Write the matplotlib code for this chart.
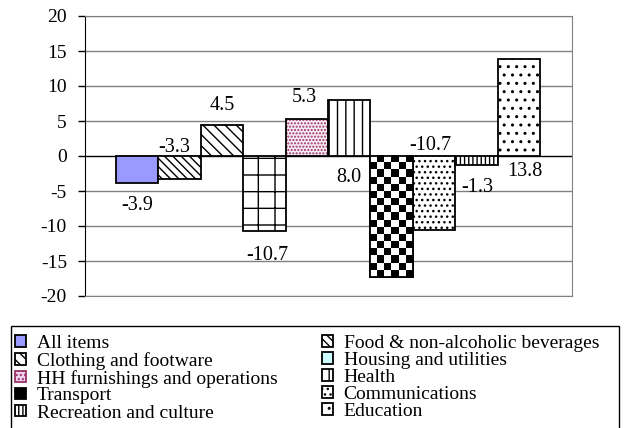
import numpy as np
import matplotlib
matplotlib.use('Agg')
import matplotlib.pyplot as plt
from matplotlib.patches import Patch, Rectangle

plt.rcParams['font.family'] = ['Liberation Serif', 'DejaVu Serif']
plt.rcParams['hatch.linewidth'] = 1.0

# data
categories = ['All items', 'Food & non-alcoholic beverages', 'Clothing and footware',
              'Housing and utilities', 'HH furnishings and operations', 'Health',
              'Transport', 'Communications', 'Recreation and culture', 'Education']
values = [-3.9, -3.3, 4.5, -10.7, 5.3, 8.0, -17.3, -10.6, -1.3, 13.9]
labels = ['-3.9', '-3.3', '4.5', '-10.7', '5.3', '8.0', None, '-10.7', '-1.3', '13.8']
yticks = [-20, -15, -10, -5, 0, 5, 10, 15, 20]

# where each label sits, in pixels from (bar centre, zero line)
label_offsets = [(0, -50), (-5, 9), (0, 50), (3, -100), (-3, 59),
                 (0, -21), (0, 0), (-4, 11), (1, -31), (6, -16)]

faces = ['#9999FF', 'white', 'white', 'white', '#F8EAF4', 'white',
         'white', 'white', 'white', 'white']
hatches = [None, '\\\\\\\\', '\\\\\\', '+', '.....', '||', None, '...', '||||', '..']
hatch_cols = ['black'] * 10
hatch_cols[4] = '#993366'

fig = plt.figure(figsize=(6.27, 4.28), dpi=100)
ax = fig.add_axes([85 / 627, 1 - 296 / 428, 487 / 627, 280 / 428])

x = np.arange(len(values))
bars = []
for i, v in enumerate(values):
    b = ax.bar(x[i], v, width=1.0, color=faces[i], edgecolor=hatch_cols[i],
               hatch=hatches[i], linewidth=1.3 if i != 4 else 0, zorder=3)
    bars.append(b[0])
    if i == 4:
        ax.bar(x[i], v, width=1.0, fill=False, edgecolor='black', linewidth=1.3, zorder=4)

# checkerboard for transport
ti = 6
nr = int(round(abs(values[ti])))
chk = (np.indices((nr, 6)).sum(axis=0) % 2).astype(float)
ax.imshow(chk, cmap='gray_r', extent=(x[ti] - 0.5, x[ti] + 0.5, values[ti], 0),
          aspect='auto', interpolation='nearest', zorder=3.5)
ax.bar(x[ti], values[ti], width=1.0, fill=False, edgecolor='black', linewidth=1.3, zorder=4)

for i, lab in enumerate(labels):
    if lab is None:
        continue
    dx, dy = label_offsets[i]
    ax.annotate(lab, (x[i], 0), xytext=(dx * 0.72, dy * 0.72), textcoords='offset points',
                ha='center', va='center', fontsize=14.5, zorder=5)

ax.set_xlim(-1.23, 10.25)
ax.set_ylim(-20, 20)
ax.set_yticks(yticks)
ax.set_yticklabels([str(t) for t in yticks])
ax.set_xticks([])
ax.tick_params(axis='y', direction='out', length=5, width=1, pad=8, labelsize=14)
for t in yticks:
    ax.axhline(t, color='#808080' if t != 0 else 'black', linewidth=1, zorder=1)
for s in ['top', 'right', 'bottom']:
    ax.spines[s].set_color('#808080')
ax.spines['left'].set_color('black')

# legend
handles = list(bars)
handles[3] = Patch(facecolor='#CCFFFF', edgecolor='black', linewidth=1.3)
handles[4] = Patch(facecolor='#F0D0EC', edgecolor='#993366', hatch='....', linewidth=1.3)
handles[6] = Patch(facecolor='black', edgecolor='black', linewidth=1.3)
order = [0, 2, 4, 6, 8, 1, 3, 5, 7, 9]
leg = fig.legend([handles[k] for k in order], [categories[k] for k in order],
                 ncol=2, loc='upper left', bbox_to_anchor=(6.5 / 627, 1 - 326 / 428),
                 fontsize=14, frameon=False, borderpad=0.45, labelspacing=0.0,
                 handlelength=0.55, handleheight=0.55, handletextpad=0.55,
                 borderaxespad=0, columnspacing=2.3)
fig.patches.append(Rectangle((11 / 627, -0.05), 608 / 627, 1 - 326 / 428 + 0.05,
                             transform=fig.transFigure, fill=False,
                             edgecolor='black', linewidth=1.0))

fig.savefig('out.png', dpi=100)
